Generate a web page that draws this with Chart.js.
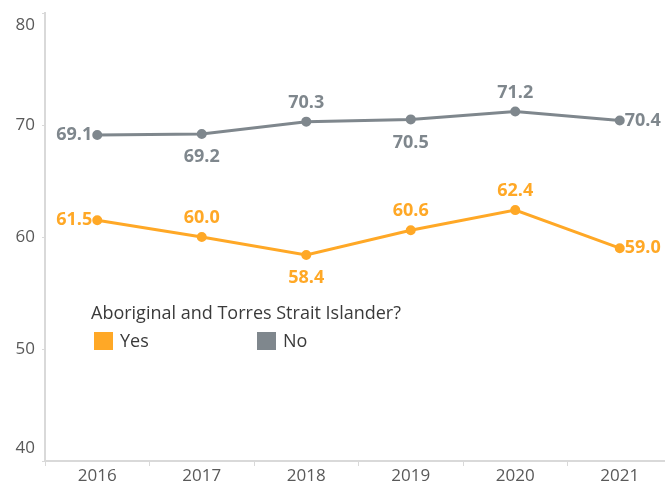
<!DOCTYPE html>
<html>
<head>
<meta charset="utf-8">
<script src="https://cdn.jsdelivr.net/npm/chart.js@4.4.1/dist/chart.umd.min.js"></script>
<style>
    html, body { margin: 0; padding: 0; background: #fff; overflow: hidden; }
    #wrap { position: relative; width: 679px; height: 487px; }
    #legend { position: absolute; left: 91px; top: 300px; font-family: "Open Sans", sans-serif; font-size: 18px; line-height: 24px; color: #3a3a3a; }
    #legend .item { position: absolute; top: 28px; white-space: nowrap; }
    #legend .sw { display: inline-block; width: 19px; height: 18px; vertical-align: -3px; margin-right: 7px; }
</style>
</head>
<body>
<div id="wrap">
    <canvas id="chart" width="679" height="487"></canvas>
    <div id="legend">
        <div style="white-space:nowrap">Aboriginal and Torres Strait Islander?</div>
        <div class="item" style="left:3px"><span class="sw" style="background:#FFA826"></span>Yes</div>
        <div class="item" style="left:166px"><span class="sw" style="background:#7F878D"></span>No</div>
    </div>
</div>
<script>
(function () {
    'use strict';

    var years    = ['2016', '2017', '2018', '2019', '2020', '2021'];
    var yesVals  = [61.5, 60.0, 58.4, 60.6, 62.4, 59.0];
    var noVals   = [69.1, 69.2, 70.3, 70.5, 71.2, 70.4];
    var yTicks   = [40, 50, 60, 70, 80];

    var orange = '#FFA826';
    var grey   = '#7F878D';
    var axisCl = '#d9d9d9';
    var tickCl = '#595959';
    var font   = '"Open Sans", sans-serif';

    // Value labels next to each point
    var valueLabels = {
        id: 'valueLabels',
        afterDatasetsDraw: function (chart) {
            var ctx = chart.ctx;
            ctx.save();
            ctx.font = 'bold 18px ' + font;
            chart.data.datasets.forEach(function (ds, i) {
                var meta = chart.getDatasetMeta(i);
                ctx.fillStyle = ds.borderColor;
                meta.data.forEach(function (pt, j) {
                    var pos = ds.labelPos[j];
                    var txt = ds.data[j].toFixed(1);
                    var x = pt.x, y = pt.y;
                    ctx.textBaseline = 'middle';
                    if (pos === 'left') {
                        ctx.textAlign = 'right'; x -= 5;
                    } else if (pos === 'right') {
                        ctx.textAlign = 'left'; x += 5;
                    } else if (pos === 'above') {
                        ctx.textAlign = 'center'; y -= 19;
                    } else {
                        ctx.textAlign = 'center'; y += 23;
                    }
                    ctx.fillText(txt, x, y);
                });
            });
            ctx.restore();
        }
    };

    // Y tick labels, kept inside the axis at both ends
    var yLabels = {
        id: 'yLabels',
        afterDraw: function (chart) {
            var ctx = chart.ctx;
            var s = chart.scales.y;
            ctx.save();
            ctx.font = '17px ' + font;
            ctx.fillStyle = tickCl;
            ctx.textAlign = 'right';
            ctx.textBaseline = 'middle';
            yTicks.forEach(function (v) {
                var y = s.getPixelForValue(v);
                y = Math.max(s.top + 12, Math.min(s.bottom - 13, y));
                ctx.fillText(String(v), 35, y);
            });
            ctx.restore();
        }
    };

    new Chart(document.getElementById('chart'), {
        type: 'line',
        data: {
            labels: years,
            datasets: [{
                label: 'No',
                data: noVals,
                borderColor: grey,
                backgroundColor: grey,
                borderWidth: 3,
                pointRadius: 3.5,
                labelPos: ['left', 'below', 'above', 'below', 'above', 'right']
            }, {
                label: 'Yes',
                data: yesVals,
                borderColor: orange,
                backgroundColor: orange,
                borderWidth: 3,
                pointRadius: 3.5,
                labelPos: ['left', 'above', 'below', 'above', 'above', 'right']
            }]
        },
        options: {
            responsive: false,
            animation: false,
            layout: { padding: { top: 13, left: 0, right: 0, bottom: 0 } },
            plugins: {
                legend: { display: false },
                tooltip: { enabled: false }
            },
            scales: {
                x: {
                    offset: true,
                    grid: {
                        display: true,
                        drawOnChartArea: false,
                        offset: true,
                        color: axisCl,
                        tickLength: 5
                    },
                    border: { color: axisCl, width: 2 },
                    ticks: { color: tickCl, font: { family: font, size: 17 }, padding: 0 },
                    afterFit: function (s) { s.height = 26; }
                },
                y: {
                    min: 40,
                    max: 80,
                    afterBuildTicks: function (s) {
                        s.ticks = yTicks.map(function (v) { return { value: v }; });
                    },
                    grid: { drawOnChartArea: false, color: axisCl, tickLength: 3 },
                    border: { color: axisCl, width: 2 },
                    ticks: { display: false },
                    afterFit: function (s) { s.width = 45; }
                }
            }
        },
        plugins: [valueLabels, yLabels]
    });
})();
</script>
</body>
</html>
